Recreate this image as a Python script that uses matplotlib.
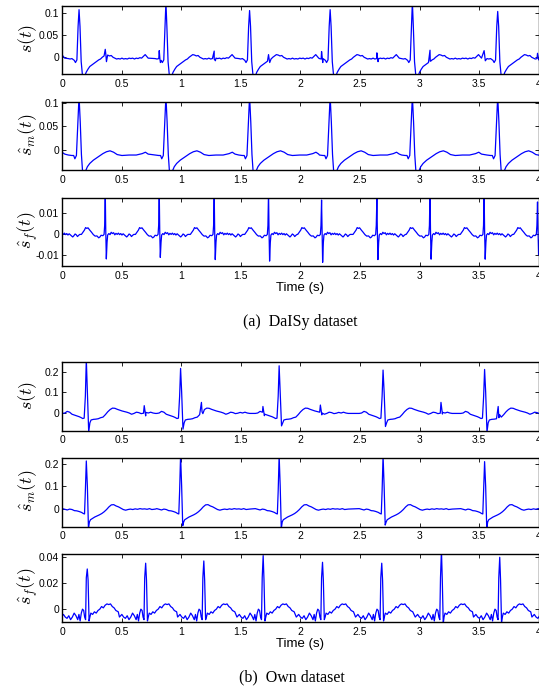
import numpy as np
import matplotlib
matplotlib.use("Agg")
import matplotlib.pyplot as plt

COLORS = {
    "bg": "#FFFFFF",
    "fg": "#000000",
    "line": "#0000FF",
}

PK = "pk"
TR = "tr"

XTICKS = [0, 0.5, 1, 1.5, 2, 2.5, 3, 3.5, 4]

# ---- DaISy: s(t) -------------------------------------------------------
d_s_beats = [-0.557, 0.143, 0.872, 1.574, 2.25, 2.94, 3.656]
d_s_peaks = [0.108, 0.108, 0.125, 0.106, 0.108, 0.125, 0.104]
d_s_troughs = [-0.045, -0.045, -0.045, -0.045, -0.045, -0.045, -0.045]
d_s_offs = [-0.09, -0.075, -0.06, -0.05, -0.04, -0.03, -0.018, -0.008, 0.0, 0.008,
            0.018, 0.03, 0.045, 0.06, 0.075, 0.09, 0.105, 0.12, 0.135, 0.15,
            0.165, 0.18, 0.195, 0.21, 0.225, 0.24, 0.255, 0.27, 0.285, 0.3,
            0.315, 0.33, 0.345, 0.36, 0.375, 0.39, 0.405, 0.42, 0.435, 0.45,
            0.465, 0.48, 0.495, 0.51, 0.525, 0.54, 0.555, 0.57, 0.58]
d_s_vals = [-0.003, -0.004, -0.003, -0.005, -0.007, -0.012, -0.006, 0.07, PK, 0.07,
            -0.01, TR, TR, -0.034, -0.027, -0.021, -0.018, -0.015, -0.012, -0.009,
            -0.006, -0.004, 0.000, 0.003, 0.006, 0.005, 0.003, 0.004, 0.000, -0.002,
            -0.004, -0.003, -0.004, -0.002, -0.004, -0.003, -0.004, -0.002, -0.003, -0.002,
            -0.004, -0.002, -0.003, -0.001, -0.002, 0.002, 0.006, 0.001, -0.002]
d_s_fetal_t = [0.363, 0.816, 1.277, 1.733, 2.178, 2.642, 3.088, 3.542, 3.99]
d_s_fetal_pk = [0.018, 0.015, 0.014, 0.006, 0.013, 0.010, 0.016, 0.015, 0.009]
d_s_fetal_tr = [-0.010, -0.012, -0.008, -0.012, -0.012, -0.010, -0.008, -0.008, -0.006]

# ---- DaISy: maternal estimate ------------------------------------------
d_m_beats = [-0.557, 0.143, 0.872, 1.574, 2.25, 2.94, 3.656]
d_m_peaks = [0.115, 0.115, 0.115, 0.115, 0.115, 0.115, 0.115]
d_m_troughs = [-0.048, -0.048, -0.048, -0.048, -0.048, -0.048, -0.048]
d_m_offs = [-0.09, -0.06, -0.045, -0.035, -0.022, -0.01, 0.0, 0.01, 0.02, 0.03,
            0.05, 0.07, 0.09, 0.12, 0.148, 0.175, 0.2, 0.23, 0.26, 0.29,
            0.32, 0.36, 0.42, 0.48, 0.53, 0.557, 0.58]
d_m_vals = [-0.011, -0.012, -0.012, -0.019, -0.012, 0.06, PK, 0.06, -0.01, TR,
            TR, -0.036, -0.029, -0.022, -0.017, -0.012, -0.008, -0.004, -0.002, -0.005,
            -0.010, -0.012, -0.011, -0.011, -0.008, -0.005, -0.009]

# ---- DaISy: fetal estimate ---------------------------------------------
d_f_beats = [-0.09, 0.363, 0.816, 1.277, 1.733, 2.178, 2.642, 3.088, 3.542, 3.99]
d_f_peaks = [0.02, 0.02, 0.02, 0.02, 0.02, 0.0159, 0.0164, 0.02, 0.02, 0.015]
d_f_troughs = [-0.012, -0.0117, -0.011, -0.012, -0.0127, -0.0133, -0.012, -0.0118, -0.0118, -0.0098]
d_f_offs = [-0.2, -0.19, -0.175, -0.165, -0.155, -0.145, -0.13, -0.115, -0.1, -0.085,
            -0.07, -0.055, -0.045, -0.035, -0.02, -0.01, -0.005, 0.0, 0.004, 0.009,
            0.015, 0.02, 0.03, 0.04, 0.05, 0.06, 0.07, 0.08, 0.09, 0.1,
            0.11, 0.12, 0.13, 0.14, 0.15, 0.16, 0.17, 0.18, 0.19, 0.2,
            0.21, 0.22, 0.23, 0.24]
d_f_vals = [-0.0002, 0.0006, 0.0018, 0.0030, 0.0026, 0.0029, 0.0018, 0.0008, -0.0003, -0.0010,
            -0.0009, -0.0018, -0.0014, -0.0006, -0.0008, -0.0002, 0.004, PK, 0.002, TR,
            -0.004, -0.0005, 0.0002, -0.0003, 0.0008, 0.0002, 0.0006, -0.0004, 0.0003, -0.0002,
            0.0004, -0.0003, 0.0002, -0.0005, 0.0001, -0.0004, -0.0009, -0.0014, -0.0008, 0.0,
            -0.0004, -0.0012, -0.0006, -0.0002]

# ---- Own: s(t) ---------------------------------------------------------
o_s_beats = [0.204, 0.995, 1.822, 2.694, 3.546]
o_s_peaks = [0.26, 0.216, 0.229, 0.208, 0.211]
o_s_troughs = [-0.095, -0.081, -0.065, -0.068, -0.095]
o_s_offs = [-0.2, -0.18, -0.16, -0.14, -0.12, -0.1, -0.08, -0.06, -0.045, -0.03,
            -0.018, -0.008, 0.0, 0.009, 0.02, 0.03, 0.04, 0.06, 0.08, 0.1,
            0.12, 0.14, 0.16, 0.18, 0.2, 0.22, 0.24, 0.26, 0.28, 0.3,
            0.32, 0.34, 0.36, 0.38, 0.4, 0.42, 0.44, 0.46, 0.48, 0.5,
            0.52, 0.54, 0.56, 0.58]
o_s_vals = [-0.004, -0.002, 0.006, 0.002, -0.008, -0.012, -0.016, -0.020, -0.024, -0.029,
            -0.027, 0.08, PK, 0.1, TR, -0.05, -0.036, -0.033, -0.032, -0.030,
            -0.025, -0.022, -0.010, 0.004, 0.015, 0.022, 0.021, 0.016, 0.012, 0.008,
            0.005, 0.002, -0.002, -0.008, -0.004, 0.002, 0.000, -0.005, -0.003, 0.001,
            -0.002, 0.002, -0.002, -0.004]
o_s_fetal_t = [0.69, 1.17, 1.686, 2.168, 3.18, 3.66]
o_s_fetal_pk = [0.034, 0.05, 0.03, 0.037, 0.05, 0.03]
o_s_fetal_tr = [-0.016, -0.005, -0.015, -0.011, -0.007, -0.010]

# ---- Own: maternal estimate --------------------------------------------
o_m_beats = [0.204, 0.995, 1.822, 2.694, 3.546]
o_m_peaks = [0.215, 0.24, 0.24, 0.24, 0.212]
o_m_troughs = [-0.09, -0.077, -0.09, -0.074, -0.09]
o_m_offs = [-0.2, -0.18, -0.16, -0.14, -0.12, -0.1, -0.08, -0.06, -0.04, -0.025,
            -0.015, -0.008, 0.0, 0.009, 0.018, 0.026, 0.035, 0.05, 0.07, 0.09,
            0.11, 0.13, 0.15, 0.17, 0.19, 0.21, 0.23, 0.25, 0.27, 0.29,
            0.31, 0.33, 0.35, 0.37, 0.39, 0.41, 0.43, 0.45, 0.47, 0.49,
            0.51, 0.53, 0.55, 0.58]
o_m_vals = [0.0, -0.003, -0.006, -0.002, -0.004, -0.009, -0.010, -0.013, -0.017, -0.022,
            -0.024, 0.08, PK, 0.1, TR, -0.06, -0.05, -0.045, -0.038, -0.033,
            -0.028, -0.022, -0.014, -0.004, 0.008, 0.017, 0.018, 0.012, 0.008, 0.002,
            -0.004, -0.007, -0.004, -0.002, -0.004, -0.001, -0.003, 0.0, -0.002, -0.001,
            -0.003, 0.0, -0.004, -0.002]

# ---- Own: fetal estimate -----------------------------------------------
o_f_beats = [0.212, 0.702, 1.19, 1.688, 2.186, 2.683, 3.184, 3.673, 4.163]
o_f_peaks = [0.0306, 0.035, 0.0367, 0.0408, 0.0357, 0.035, 0.045, 0.0395, 0.035]
o_f_troughs = [-0.009, -0.009, -0.008, -0.009, -0.008, -0.009, -0.011, -0.010, -0.009]
o_f_offs = [-0.22, -0.2, -0.185, -0.17, -0.155, -0.14, -0.125, -0.11, -0.095, -0.08,
            -0.07, -0.06, -0.05, -0.04, -0.03, -0.022, -0.014, -0.008, 0.0, 0.007,
            0.015, 0.022, 0.03, 0.045, 0.06, 0.075, 0.09, 0.105, 0.12, 0.135,
            0.15, 0.165, 0.18, 0.195, 0.21, 0.225, 0.24, 0.26]
o_f_vals = [-0.006, -0.004, -0.006, -0.007, -0.005, -0.008, -0.006, -0.003, -0.005, -0.008,
            -0.004, -0.009, -0.003, 0.0, -0.001, -0.006, -0.008, 0.024, PK, 0.022,
            TR, -0.006, -0.003, -0.004, -0.002, -0.003, -0.001, 0.0, 0.002, 0.001,
            0.003, 0.004, 0.0035, 0.004, 0.002, 0.001, -0.001, -0.002]


def beat_train(beats, peaks, troughs, offs, vals):
    t, v = [], []
    for b, pk, tr in zip(beats, peaks, troughs):
        for o, val in zip(offs, vals):
            t.append(b + o)
            v.append(pk if val == PK else tr if val == TR else val)
    order = np.argsort(t)
    return np.array(t)[order], np.array(v)[order]


def add_spikes(t, v, times, peaks, troughs, width):
    t = list(t) + list(times) + [s + width for s in times]
    v = list(v) + list(peaks) + list(troughs)
    order = np.argsort(t)
    return np.array(t)[order], np.array(v)[order]


def setup_style():
    plt.rcParams["font.family"] = ["Liberation Sans", "DejaVu Sans"]
    plt.rcParams["mathtext.fontset"] = "cm"
    plt.rcParams["font.size"] = 7.5
    plt.rcParams["figure.facecolor"] = COLORS["bg"]
    plt.rcParams["axes.facecolor"] = COLORS["bg"]


def style_axes(ax, series, ylim, yticks, ylabel, xmin=0.0, xlabel=None, xlabel_y=None):
    t, v = series
    ax.plot(t, v, color=COLORS["line"], linewidth=0.9)
    ax.set_xlim(xmin, 4)
    ax.set_ylim(*ylim)
    ax.set_xticks(XTICKS)
    ax.set_xticklabels(["%g" % x for x in XTICKS])
    ax.set_yticks(yticks)
    ax.set_yticklabels(["%g" % y for y in yticks])
    for spine in ax.spines.values():
        spine.set_color(COLORS["fg"])
        spine.set_linewidth(1.0)
    ax.tick_params(direction="in", top=True, right=True, length=3, width=0.6,
                   labelsize=7.5, colors=COLORS["fg"])
    ax.tick_params(axis="y", pad=2)
    ax.tick_params(axis="x", pad=3.5)
    ax.set_ylabel(ylabel, fontsize=13, va="center")
    ax.yaxis.set_label_coords(-0.072, 0.52)
    if xlabel:
        ax.set_xlabel(xlabel, fontsize=9.5, va="center")
        ax.xaxis.set_label_coords(0.5, xlabel_y)


setup_style()
fig = plt.figure(figsize=(5.39, 6.87), dpi=100)

left, width, height = 62 / 539, 476.7 / 539, 68.3 / 687
tops = [5.7, 101.7, 197.7, 362.3, 458.3, 554.0]
axes = [fig.add_axes([left, 1 - (tp + 68.3) / 687, width, height]) for tp in tops]

s1 = add_spikes(*beat_train(d_s_beats, d_s_peaks, d_s_troughs, d_s_offs, d_s_vals),
                d_s_fetal_t, d_s_fetal_pk, d_s_fetal_tr, 0.01)
s2 = beat_train(d_m_beats, d_m_peaks, d_m_troughs, d_m_offs, d_m_vals)
s3 = beat_train(d_f_beats, d_f_peaks, d_f_troughs, d_f_offs, d_f_vals)
s4 = add_spikes(*beat_train(o_s_beats, o_s_peaks, o_s_troughs, o_s_offs, o_s_vals),
                o_s_fetal_t, o_s_fetal_pk, o_s_fetal_tr, 0.012)
s5 = beat_train(o_m_beats, o_m_peaks, o_m_troughs, o_m_offs, o_m_vals)
s6 = beat_train(o_f_beats, o_f_peaks, o_f_troughs, o_f_offs, o_f_vals)

style_axes(axes[0], s1, (-0.038, 0.117), [0, 0.05, 0.1], r"$s(t)$")
style_axes(axes[1], s2, (-0.043, 0.103), [0, 0.05, 0.1], r"$\hat{s}_m(t)$")
style_axes(axes[2], s3, (-0.015, 0.017), [-0.01, 0, 0.01], r"$\hat{s}_f(t)$",
           xlabel="Time (s)", xlabel_y=-0.32)
style_axes(axes[3], s4, (-0.088, 0.246), [0, 0.1, 0.2], r"$s(t)$", xmin=0.006)
style_axes(axes[4], s5, (-0.081, 0.227), [0, 0.1, 0.2], r"$\hat{s}_m(t)$", xmin=0.006)
style_axes(axes[5], s6, (-0.010, 0.042), [0, 0.02, 0.04], r"$\hat{s}_f(t)$",
           xlabel="Time (s)", xlabel_y=-0.32)

fig.text(300 / 539, 1 - 322 / 687, "(a)  DaISy dataset", ha="center", va="center",
         family=["Liberation Serif", "DejaVu Serif"], fontsize=11.5)
fig.text(292 / 539, 1 - 677 / 687, "(b)  Own dataset", ha="center", va="center",
         family=["Liberation Serif", "DejaVu Serif"], fontsize=11.5)

fig.savefig("out.png", dpi=100)
